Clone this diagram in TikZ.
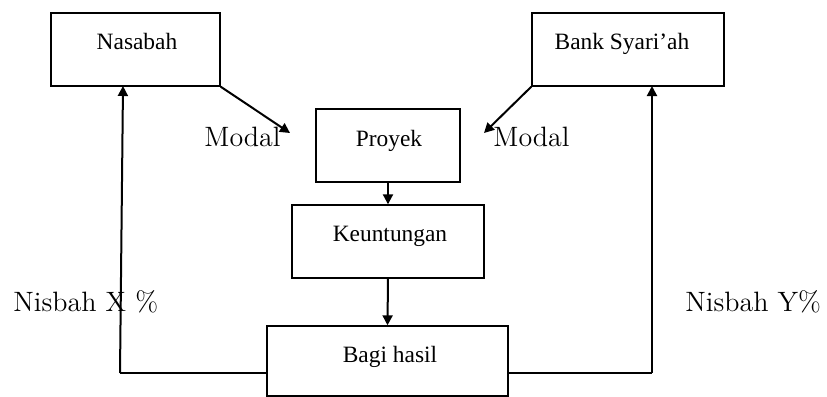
\documentclass[tikz,border=0pt]{standalone}
\usepackage{fontspec}
\newfontfamily\boxfont{Liberation Serif}
\usetikzlibrary{arrows.meta}
\tikzset{
  box/.style={draw, line width=0.7pt, inner sep=0pt, minimum height=36.5pt},
  boxtext/.style={anchor=base, inner sep=0pt, font=\boxfont\fontsize{11.7}{14}\selectfont},
  lbl/.style={anchor=base west, inner sep=0pt, font=\fontsize{14}{16}\selectfont},
  conn/.style={line width=1pt, -{Triangle[length=5pt,width=5pt]}},
  plain/.style={line width=0.9pt}
}
\begin{document}
\begin{tikzpicture}[x=0.5pt,y=-0.5pt]
\useasboundingbox (0,0) rectangle (827,397);
% boxes
\node[box, minimum width=84.5pt] (nas) at (135.5,49.5) {};
\node[box, minimum width=96pt] (bank) at (628,49.5) {};
\node[box, minimum width=72pt] (proy) at (388,145.5) {};
\node[box, minimum width=96pt] (keun) at (388,241.5) {};
\node[box, minimum width=120.5pt, minimum height=35pt] (bagi) at (387.5,361) {};
% box texts
\node[boxtext] (tnas) at (137,49) {Nasabah};
\node[boxtext] (tbank) at (622,49) {Bank Syari’ah};
\node[boxtext] (tproy) at (389,146) {Proyek};
\node[boxtext] (tkeun) at (390,241) {Keuntungan};
\node[boxtext] (tbagi) at (390,362) {Bagi hasil};
% labels
\node[lbl] (mod1) at (204,146) {Modal};
\node[lbl] (mod2) at (493,146) {Modal};
\node[lbl] (nx) at (13,311) {Nisbah X \%};
\node[lbl] (ny) at (685,311) {Nisbah Y\%};
% coordinates
\coordinate (tipL) at (290,133);
\coordinate (tipR) at (484,133);
\coordinate (cornL) at (120,373);
\coordinate (cornR) at (652,373);
\coordinate (upL) at (123,86);
\coordinate (upR) at (652,86);
% connectors
\draw[conn] (nas.south east) -- (tipL);
\draw[conn] (bank.south west) -- (tipR);
\draw[conn] (proy.south) -- (keun.north);
\draw[conn] (keun.south) -- (bagi.north);
\draw[plain] (bagi.west |- cornL) -- (cornL);
\draw[conn] (cornL) -- (upL);
\draw[plain] (bagi.east |- cornR) -- (cornR);
\draw[conn] (cornR) -- (upR);
\end{tikzpicture}
\end{document}
